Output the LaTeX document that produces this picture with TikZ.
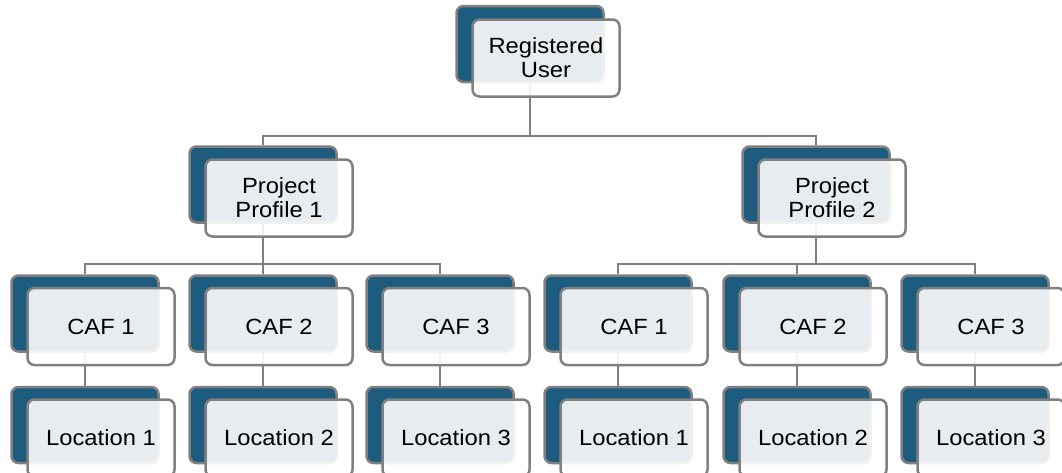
\documentclass[tikz,border=0pt]{standalone}
\usepackage{fontspec}
\setmainfont{Liberation Sans}[FakeStretch=1.08]
\definecolor{backblue}{HTML}{1D5B7F}
\definecolor{edgegray}{HTML}{808080}
\begin{document}
\begin{tikzpicture}[x=1pt,y=-1pt,
  backbox/.style={draw=edgegray, line width=2.5pt, fill=backblue, rounded corners=7pt,
    minimum width=147pt, minimum height=76pt, inner sep=0pt},
  frontbox/.style={draw=edgegray, line width=2.5pt, fill=white, fill opacity=0.89, text opacity=1,
    rounded corners=7pt, minimum width=147pt, minimum height=77pt, inner sep=0pt,
    align=center, font=\fontsize{22}{24}\selectfont},
  link/.style={draw=edgegray, line width=2.5pt}]
\clip (0,0) rectangle (1062,472);
\fill[white] (0,0) rectangle (1062,472);
\coordinate (bus0) at (0,136);
\coordinate (bus1) at (0,264);
% back boxes
\node[backbox] (btop) at (530,44) {};
\node[backbox] (bpp1) at (263,184.5) {};
\node[backbox] (bpp2) at (816,184.5) {};
\node[backbox] (bc1) at (85,313.5) {};
\node[backbox] (bc2) at (263,313.5) {};
\node[backbox] (bc3) at (440,313.5) {};
\node[backbox] (bc4) at (618,313.5) {};
\node[backbox] (bc5) at (797,313.5) {};
\node[backbox] (bc6) at (975,313.5) {};
\node[backbox] (bl1) at (85,425) {};
\node[backbox] (bl2) at (263,425) {};
\node[backbox] (bl3) at (440,425) {};
\node[backbox] (bl4) at (618,425) {};
\node[backbox] (bl5) at (797,425) {};
\node[backbox] (bl6) at (975,425) {};
% connectors
\draw[link] (btop.south) -- (btop.south |- bus0);
\draw[link] (bpp1.north) |- (btop.south |- bus0) -| (bpp2.north);
\draw[link] (bpp1.south) -- (bpp1.south |- bus1);
\draw[link] (bc1.north) |- (bpp1.south |- bus1) -| (bc3.north);
\draw[link] (bc2.north) -- (bpp1.south |- bus1);
\draw[link] (bpp2.south) -- (bpp2.south |- bus1);
\draw[link] (bc4.north) |- (bpp2.south |- bus1) -| (bc6.north);
\draw[link] (bc5.north) |- (bpp2.south |- bus1);
\foreach \i in {1,...,6} {\draw[link] (bc\i.south) -- (bl\i.north);}
% front boxes
\node[frontbox] (ftop) at (546,58) {Registered\\User};
\node[frontbox] (fpp1) at (279,198) {Project\\Profile 1};
\node[frontbox] (fpp2) at (832,198) {Project\\Profile 2};
\node[frontbox] (fc1) at (101,326.5) {CAF 1};
\node[frontbox] (fc2) at (279,326.5) {CAF 2};
\node[frontbox] (fc3) at (456,326.5) {CAF 3};
\node[frontbox] (fc4) at (634,326.5) {CAF 1};
\node[frontbox] (fc5) at (813,326.5) {CAF 2};
\node[frontbox] (fc6) at (991,326.5) {CAF 3};
\node[frontbox] (fl1) at (101,438) {Location 1};
\node[frontbox] (fl2) at (279,438) {Location 2};
\node[frontbox] (fl3) at (456,438) {Location 3};
\node[frontbox] (fl4) at (634,438) {Location 1};
\node[frontbox] (fl5) at (813,438) {Location 2};
\node[frontbox] (fl6) at (991,438) {Location 3};
\end{tikzpicture}
\end{document}
